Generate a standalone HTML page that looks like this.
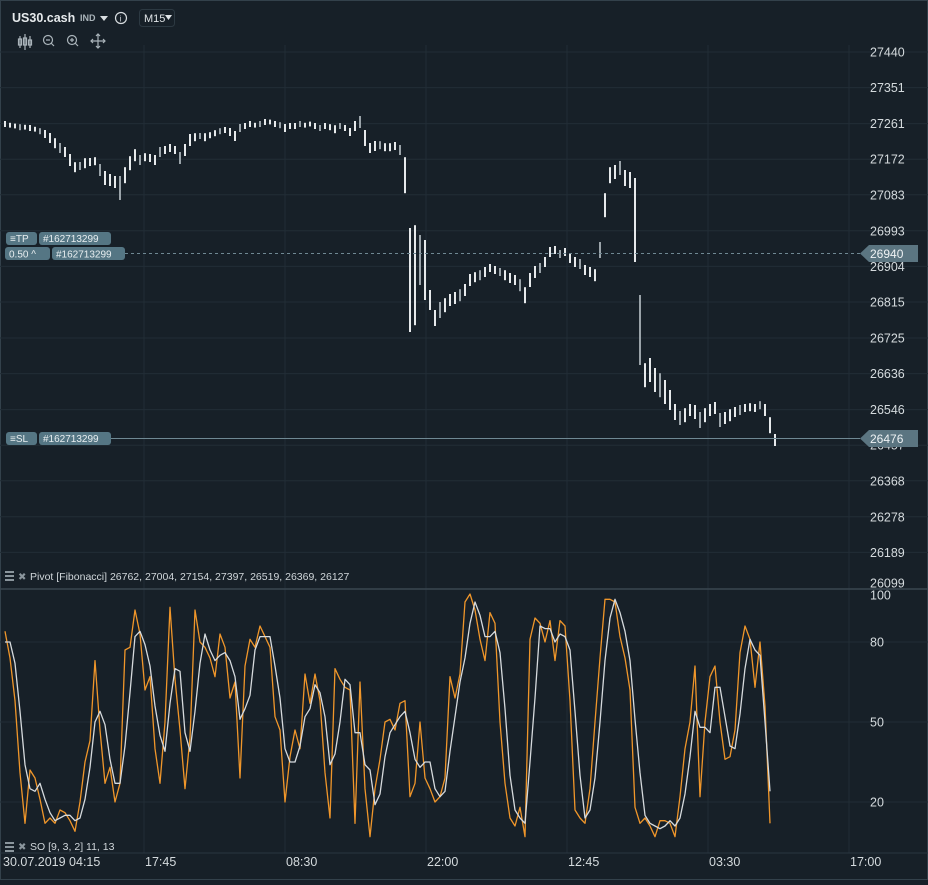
<!DOCTYPE html>
<html><head><meta charset="utf-8"><style>
body{margin:0;background:#172028;}
svg text{font-family:"Liberation Sans",sans-serif;}
</style></head><body>
<svg id="c" width="928" height="880" xmlns="http://www.w3.org/2000/svg">
<rect x="0" y="0" width="928" height="880" fill="#172028" stroke="#33414b" stroke-width="2"/>
<g id="grid"></g>
<g id="bars"></g>
<g id="stoch"></g>
<g id="axes"></g>
<line x1="0" y1="589" x2="928" y2="589" stroke="#3a4751" stroke-width="1.5"/>
<line x1="0" y1="853" x2="928" y2="853" stroke="#2a3640" stroke-width="1"/>
<g>
<text x="12" y="22" fill="#e6eaec" font-size="12.5" font-weight="bold">US30.cash</text>
<text x="80" y="21" fill="#aab4ba" font-size="9" font-weight="bold">IND</text>
<path d="M100 16 L108 16 L104 21 Z" fill="#d8dde0"/>
<circle cx="121" cy="18" r="5.5" fill="none" stroke="#d8dde0" stroke-width="1.2"/>
<text x="119.8" y="21.5" fill="#d8dde0" font-size="8">i</text>
<rect x="139.5" y="9.5" width="35" height="17" rx="3" fill="none" stroke="#2c3942"/>
<text x="144" y="22" fill="#e0e4e7" font-size="11">M15</text>
<path d="M165 15 L172 15 L168.5 20 Z" fill="#e0e4e7"/>
<g stroke="#aab4ba" fill="none" stroke-width="1.2">
<path d="M20 36 V48 M25 34 V50 M30 36 V48 M18.5 39 h3 v6 h-3z M23.5 38 h3 v7 h-3z M28.5 40 h3 v5 h-3z"/>
<circle cx="48" cy="40" r="4.5"/><path d="M46 40 h4 M51 43 l3 3"/>
<circle cx="72" cy="40" r="4.5"/><path d="M70 40 h4 M72 38 v4 M75 43 l3 3"/>
<path d="M98 34 V48 M91 41 H105 M96 36 l2 -2 2 2 M96 46 l2 2 2 -2 M93 39 l-2 2 2 2 M103 39 l2 2 -2 2"/>
</g>
</g>
<g>
<rect x="6" y="232" width="31" height="13" rx="3" fill="#557684"/>
<text x="10" y="242" fill="#e8eef0" font-size="10">≡TP</text>
<rect x="39" y="232" width="72" height="13" rx="3" fill="#557684"/>
<text x="43" y="242" fill="#e8eef0" font-size="10">#162713299</text>
</g>
<g>
<line x1="125" y1="253.5" x2="860" y2="253.5" stroke="#6f8893" stroke-dasharray="3,3"/>
<rect x="5" y="247" width="45" height="13" rx="3" fill="#557684"/>
<text x="9" y="257.5" fill="#e8eef0" font-size="10">0.50 ^</text>
<rect x="52" y="247" width="73" height="13" rx="3" fill="#557684"/>
<text x="56" y="257.5" fill="#e8eef0" font-size="10">#162713299</text>
<path d="M860 253.5 L869 245 H918 V262 H869 Z" fill="#5b7581"/>
<text x="870" y="258" fill="#eef2f4" font-size="12">26940</text>
</g>
<g>
<line x1="110" y1="438.5" x2="860" y2="438.5" stroke="#6f8893"/>
<rect x="6" y="432" width="31" height="13" rx="3" fill="#557684"/>
<text x="10" y="442" fill="#e8eef0" font-size="10">≡SL</text>
<rect x="39" y="432" width="72" height="13" rx="3" fill="#557684"/>
<text x="43" y="442" fill="#e8eef0" font-size="10">#162713299</text>
<path d="M860 438.5 L869 430 H918 V447 H869 Z" fill="#5b7581"/>
<text x="870" y="443" fill="#eef2f4" font-size="12">26476</text>
</g>
<g>
<rect x="5" y="571" width="9" height="2" fill="#8a959c"/><rect x="5" y="575" width="9" height="2" fill="#8a959c"/><rect x="5" y="579" width="9" height="2" fill="#8a959c"/>
<text x="18" y="580" fill="#8a959c" font-size="10">✖</text>
<text x="30" y="580" fill="#d0d6da" font-size="10.5">Pivot [Fibonacci] 26762, 27004, 27154, 27397, 26519, 26369, 26127</text>
</g>
<g>
<rect x="5" y="842" width="9" height="2" fill="#8a959c"/><rect x="5" y="846" width="9" height="2" fill="#8a959c"/><rect x="5" y="850" width="9" height="2" fill="#8a959c"/>
<text x="18" y="850" fill="#8a959c" font-size="10">✖</text>
<text x="30" y="850" fill="#d0d6da" font-size="10.5">SO [9, 3, 2] 11, 13</text>
</g>
</svg>
<script>
const priceTicks=[27440,27351,27261,27172,27083,26993,26904,26815,26725,26636,26546,26457,26368,26278,26189,26099];
const soTicks=[100,80,50,20];
const timeLabels=["30.07.2019 04:15","17:45","08:30","22:00","12:45","03:30","17:00"];
const barClose=[27260,27257,27255,27252,27252,27250,27247,27242,27235,27225,27212,27200,27190,27170,27152,27155,27162,27165,27167,27145,27125,27120,27115,27100,27132,27162,27182,27170,27177,27175,27170,27190,27195,27200,27195,27175,27195,27220,27227,27230,27227,27232,27237,27242,27245,27240,27230,27250,27255,27260,27257,27260,27265,27265,27260,27257,27250,27255,27255,27260,27257,27260,27255,27250,27255,27252,27247,27255,27250,27240,27255,27265,27225,27200,27205,27207,27202,27202,27205,27195,27132,26870,26882,26920,26895,26820,26775,26795,26807,26820,26825,26832,26845,26870,26877,26882,26890,26900,26895,26890,26882,26875,26870,26857,26832,26870,26890,26900,26915,26940,26945,26935,26940,26925,26915,26910,26895,26890,26882,26945,27057,27132,27140,27150,27125,27120,27020,26745,26632,26645,26620,26607,26590,26570,26540,26525,26532,26545,26540,26520,26532,26545,26550,26520,26525,26532,26540,26545,26550,26552,26550,26557,26545,26507,26470];
const barRange=[15,12,12,15,12,15,12,15,20,25,25,25,25,30,25,20,25,20,20,30,35,30,30,60,40,35,30,25,20,20,25,25,20,20,20,30,30,30,20,15,20,15,15,15,15,20,25,20,15,15,12,15,15,12,15,15,20,15,15,15,12,12,15,15,15,15,20,15,15,20,25,30,40,25,25,20,20,20,20,25,90,260,250,125,150,50,40,40,35,30,30,30,30,30,25,25,25,20,20,20,25,25,25,30,40,35,30,25,25,25,20,20,20,25,25,25,25,25,30,40,60,40,35,35,40,40,210,175,60,60,60,60,60,50,40,35,35,30,35,40,35,30,30,35,30,30,25,25,20,20,20,20,30,40,30];
const soK=[84,74,58,31,12,32,29,21,12,14,12,17,16,13,9,20,35,43,73,47,27,33,20,27,77,78,92,83,62,67,40,27,50,93,66,47,25,44,92,80,78,74,67,83,78,59,65,29,71,81,78,86,82,78,52,47,20,37,47,40,68,57,68,58,31,14,70,66,63,62,12,65,25,7,25,36,50,51,47,57,58,22,27,50,29,25,20,22,29,67,59,68,95,98,92,81,73,91,87,50,27,14,11,18,7,81,89,87,80,88,73,88,86,58,17,14,12,25,50,74,96,96,95,82,74,62,18,12,14,11,7,13,13,12,7,22,40,50,71,22,50,67,71,50,36,37,47,76,86,81,63,80,56,12];
const soD=[80,80,72,54,34,25,24,27,21,16,13,14,15,15,13,14,21,33,50,54,49,36,27,27,41,61,82,84,79,71,56,45,39,57,70,69,46,39,54,72,83,77,73,75,76,73,67,51,55,60,77,82,82,82,71,59,40,35,35,41,52,55,64,61,52,34,38,50,66,64,46,46,34,32,19,23,37,46,49,52,54,46,36,33,35,35,25,22,24,39,52,65,74,87,95,90,82,82,84,76,55,30,17,14,12,35,59,86,85,85,80,83,82,77,54,30,14,17,29,50,73,89,96,91,84,73,51,31,15,12,11,10,11,13,11,14,23,37,54,48,48,46,63,63,52,41,40,53,70,81,77,75,50,24];

const NS="http://www.w3.org/2000/svg";
function mk(tag,attrs,parent){const e=document.createElementNS(NS,tag);for(const k in attrs)e.setAttribute(k,attrs[k]);parent.appendChild(e);return e;}
const yP=p=>52+(27440-p)*0.4;
const yS=v=>802-(v-20)*2.667;
const xB=i=>5+i*5;
const grid=document.getElementById('grid'),axes=document.getElementById('axes');
priceTicks.forEach((p,i)=>{
  const y=yP(p);
  if(y<586){const l=mk('line',{x1:0,y1:y,x2:928,y2:y,stroke:'#222d36'},grid);
  
  }
  const t=mk('text',{x:870,y:Math.min(y,583)+4.5,fill:'#d4dadd','font-size':'12.5'},axes);
  t.textContent=p;
  
  
});
soTicks.forEach(v=>{
  const y=yS(v);
  if(v<100){const l=mk('line',{x1:0,y1:y,x2:928,y2:y,stroke:'#222d36'},grid);
  
  }
  const t=mk('text',{x:870,y:Math.max(y,595)+4.5,fill:'#d4dadd','font-size':'12.5'},axes);
  t.textContent=v;
  
  
});
timeLabels.forEach((s,i)=>{
  const x=i===0?3:3+i*141;
  if(i>0){const l=mk('line',{x1:x,y1:45,x2:x,y2:853,stroke:'#222d36'},grid);
  
  }
  const t=mk('text',{x:x+(i===0?0:1),y:866,fill:'#d4dadd','font-size':'12.5'},axes);
  t.textContent=s;
  
  
});
const bars=document.getElementById('bars');
barClose.forEach((c,i)=>{
  const h=c+barRange[i]/2,lo=c-barRange[i]/2;
  const r=mk('rect',{x:xB(i)-1,y:yP(h),width:2,height:Math.max(2,yP(lo)-yP(h)),fill:i%4===3?'#9aa3a9':'#e6e9eb'},bars);
  
  
});
const st=document.getElementById('stoch');
function line(arr,color,name,w){
  const d=arr.map((v,i)=>(i?'L':'M')+xB(i)+' '+yS(v).toFixed(1)).join(' ');
  const p=mk('path',{d:d,fill:'none',stroke:color,'stroke-width':w,'stroke-linejoin':'round'},st);
  
  
}
line(soK,'#f0962a','so-k-line',1.3);
line(soD,'#d6dadd','so-d-line',1.3);
</script>
</body></html>
